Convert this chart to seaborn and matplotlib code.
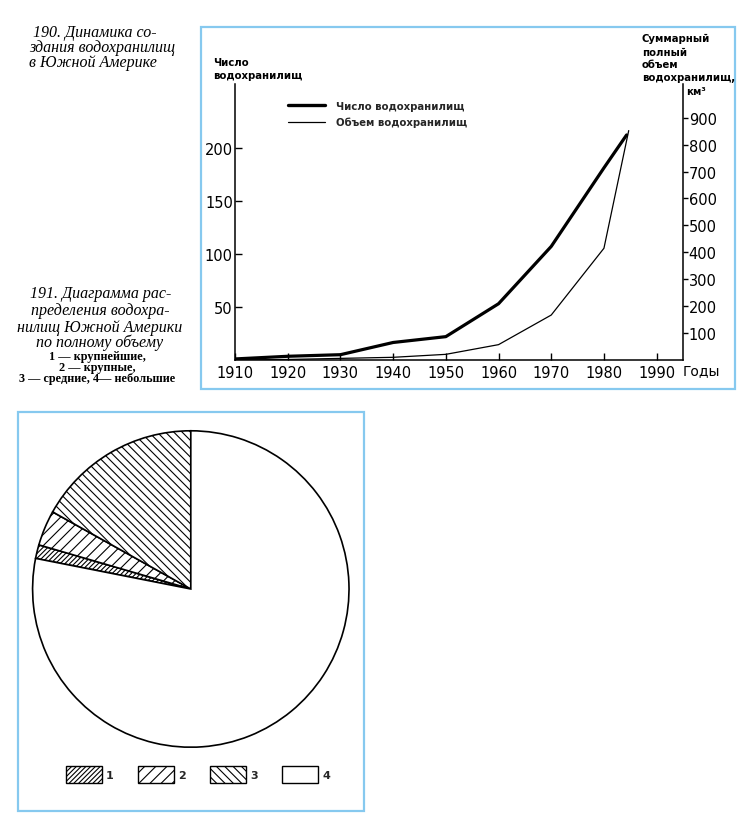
import matplotlib
matplotlib.use("Agg")
import matplotlib.pyplot as plt
from matplotlib.patches import Rectangle
from matplotlib.lines import Line2D
import pandas as pd
import seaborn as sns

# ---------------- data ----------------
years_count = [1910, 1920, 1930, 1940, 1950, 1960, 1970, 1980, 1984.3]
reservoir_count = [1, 3.5, 5, 16.5, 22, 53, 107, 181, 212]
years_volume = [1910, 1920, 1930, 1940, 1950, 1960, 1970, 1980, 1984.7]
reservoir_volume = [0, 2, 6, 10, 21, 57, 167, 415, 852]
x_ticks = [1910, 1920, 1930, 1940, 1950, 1960, 1970, 1980, 1990]
left_ticks = [50, 100, 150, 200]
right_ticks = [100, 200, 300, 400, 500, 600, 700, 800, 900]
series_names = ["Число водохранилищ", "Объем водохранилищ"]

pie_labels = ["1", "2", "3", "4"]
pie_shares = [1.4, 3.6, 16.9, 78.1]
pie_hatches = ["///////", "///", "\\\\\\\\", ""]

# ---------------- style ----------------
sns.set_theme(style="ticks")
plt.rcParams["font.family"] = ["DejaVu Sans"]
plt.rcParams["hatch.linewidth"] = 0.8
plt.rcParams["axes.linewidth"] = 1.1
plt.rcParams["axes.edgecolor"] = "black"
plt.rcParams["xtick.color"] = "black"
plt.rcParams["ytick.color"] = "black"

W, H = 750, 820
fig = plt.figure(figsize=(W / 100, H / 100), dpi=100)
fig.patch.set_facecolor("white")


def fx(px):
    return px / W


def fy(py):
    return 1 - py / H


BLUE = "#86c9ef"

# frames
fig.patches.append(Rectangle((fx(201), fy(390)), fx(735) - fx(201), (390 - 28.3) / H,
                             transform=fig.transFigure, fill=False, edgecolor=BLUE, lw=1.6))
fig.patches.append(Rectangle((fx(18.3), fy(811.7)), fx(364) - fx(18.3), (811.7 - 413.3) / H,
                             transform=fig.transFigure, fill=False, edgecolor=BLUE, lw=1.6))

# ---------------- line chart ----------------
ax = fig.add_axes([fx(235), fy(361), fx(683) - fx(235), (361 - 85) / H])
ax.set_facecolor("none")
df_count = pd.DataFrame({"year": years_count, "value": reservoir_count})
df_vol = pd.DataFrame({"year": years_volume, "value": reservoir_volume})
sns.lineplot(data=df_count, x="year", y="value", ax=ax, color="black", lw=2.3, legend=False)
ax2 = ax.twinx()
sns.lineplot(data=df_vol, x="year", y="value", ax=ax2, color="black", lw=0.9, legend=False)

ax.set_xlim(1910, 1995)
ax.set_ylim(0, 260)
ax2.set_ylim(0, 1025)
for a in (ax, ax2):
    a.set_xlabel("")
    a.set_ylabel("")
ax.spines["top"].set_visible(False)
ax.spines["right"].set_visible(False)
ax2.spines["top"].set_visible(False)
ax2.spines["left"].set_visible(False)
ax2.spines["bottom"].set_visible(False)

ax.set_xticks(x_ticks)
ax.set_xticklabels([str(t) for t in x_ticks])
ax.tick_params(axis="x", direction="in", length=4.8, width=1, pad=3.5, labelsize=10.5)
ax.set_yticks(left_ticks)
ax.set_yticklabels([str(t) for t in left_ticks])
ax.tick_params(axis="y", direction="in", length=4.8, width=1, pad=1.5, labelsize=10.5)
ax2.set_yticks(right_ticks)
ax2.set_yticklabels([str(t) for t in right_ticks])
ax2.tick_params(axis="y", direction="out", length=3.6, width=1, pad=0.5, labelsize=10.5)

handles = [Line2D([], [], color="black", lw=2.4), Line2D([], [], color="black", lw=0.9)]
fig.legend(handles, series_names, loc="upper left", bbox_to_anchor=(fx(288), fy(101.5)),
           bbox_transform=fig.transFigure, frameon=False, borderpad=0, borderaxespad=0,
           handlelength=3.6, handletextpad=1.15, labelspacing=0.6,
           prop={"size": 7.3, "weight": "bold"})

lab = dict(fontsize=7.3, weight="bold", va="center", ha="left", color="black")
fig.text(fx(213.3), fy(63.3), "Число", **lab)
fig.text(fx(213.3), fy(75.7), "водохранилищ", **lab)
fig.text(fx(641.7), fy(39.3), "Суммарный", **lab)
fig.text(fx(641.7), fy(53.0), "полный", **lab)
fig.text(fx(641.7), fy(65.5), "объем", **lab)
fig.text(fx(641.7), fy(77.8), "водохранилищ,", **lab)
fig.text(fx(686), fy(91.7), "км³", **lab)
fig.text(fx(683), fy(370.7), "Годы", fontsize=10, va="center", ha="left", color="black")

# ---------------- captions ----------------
cap = dict(family=["Liberation Serif", "DejaVu Serif"], style="italic", fontsize=11.5,
           ha="center", va="center", color="black")
fig.text(fx(95), fy(33), "190. Динамика со-", **cap)
fig.text(fx(102.5), fy(48.3), "здания водохранилищ", **cap)
fig.text(fx(92.5), fy(63.3), "в Южной Америке", **cap)
fig.text(fx(101), fy(294), "191. Диаграмма рас-", **cap)
fig.text(fx(100), fy(311), "пределения водохра-", **cap)
fig.text(fx(100), fy(327.5), "нилищ Южной Америки", **cap)
fig.text(fx(100), fy(343), "по полному объему", **cap)
small = dict(family=["Liberation Serif", "DejaVu Serif"], weight="bold", fontsize=8.8,
             ha="center", va="center", color="black")
fig.text(fx(97.5), fy(357), "1 — крупнейшие,", **small)
fig.text(fx(97.5), fy(368), "2 — крупные,", **small)
fig.text(fx(97.5), fy(379), "3 — средние, 4— небольшие", **small)

# ---------------- pie ----------------
cx, cy, r = 190.8, 590.0, 159.0
pax = fig.add_axes([fx(cx - r), fy(cy + r), 2 * r / W, 2 * r / H])
start = 90 + 360 * sum(pie_shares[:3]) / sum(pie_shares)
wedges, _ = pax.pie(pie_shares, startangle=start, counterclock=False,
                    colors=["white"] * len(pie_shares),
                    wedgeprops=dict(edgecolor="black", linewidth=1.2))
for w, h in zip(wedges, pie_hatches):
    w.set_hatch(h)
pax.set_xlim(-1.005, 1.005)
pax.set_ylim(-1.005, 1.005)
pax.set_aspect("equal")
pax.axis("off")

leg2 = fig.legend(wedges, pie_labels, ncol=4, loc="upper left",
                  bbox_to_anchor=(fx(66), fy(766.7)), bbox_transform=fig.transFigure,
                  frameon=False, borderpad=0, borderaxespad=0,
                  handlelength=3.24, handleheight=2.04, handletextpad=0.35,
                  columnspacing=2.2, prop={"size": 8, "weight": "bold"})
for p in leg2.get_patches():
    p.set_linewidth(1.0)

fig.savefig("out.png", dpi=100, facecolor="white")
